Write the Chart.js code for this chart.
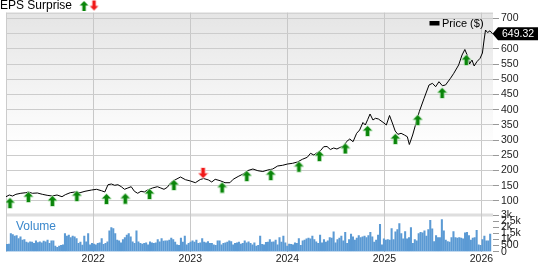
<!DOCTYPE html>
<html>
<head>
<meta charset="utf-8">
<script src="https://cdn.jsdelivr.net/npm/chart.js@4.4.1/dist/chart.umd.min.js"></script>
<style>
html,body{margin:0;padding:0;background:#fff;}
#wrap{position:relative;width:538px;height:262px;}
</style>
</head>
<body>
<div id="wrap"><canvas id="c" width="538" height="262"></canvas></div>
<script>
// ---- data ----
const yearTicks = [2022, 2023, 2024, 2025, 2026];
const priceTicks = [100,150,200,250,300,350,400,450,500,550,600,650,700];
const volumeTicks = [0,500,1000,1500,2000,2500,3000];
const volumeTickLabels = ['0','500','1k','1.5k','2k','2.5k','3k'];

const priceDates = [
 2021.101,2021.135,2021.169,2021.203,2021.254,2021.305,2021.332,2021.373,2021.424,2021.475,
 2021.525,2021.576,2021.627,2021.678,2021.712,2021.763,2021.813,2021.864,2021.915,2021.983,
 2022.034,2022.085,2022.119,2022.152,2022.187,2022.221,2022.254,2022.289,2022.322,2022.356,
 2022.391,2022.424,2022.458,2022.492,2022.526,2022.560,2022.610,2022.661,2022.696,2022.729,
 2022.763,2022.798,2022.831,2022.899,2022.950,2023.001,2023.052,2023.103,2023.137,2023.188,
 2023.221,2023.256,2023.307,2023.358,2023.408,2023.442,2023.493,2023.544,2023.595,2023.645,
 2023.696,2023.747,2023.798,2023.849,2023.900,2023.951,2024.002,2024.053,2024.104,2024.155,
 2024.205,2024.239,2024.273,2024.307,2024.341,2024.375,2024.409,2024.443,2024.477,2024.511,
 2024.541,2024.582,2024.609,2024.643,2024.677,2024.714,2024.745,2024.779,2024.803,2024.829,
 2024.852,2024.882,2024.908,2024.938,2024.986,2025.020,2025.053,2025.086,2025.111,2025.139,
 2025.172,2025.206,2025.236,2025.257,2025.291,2025.325,2025.359,2025.409,2025.460,2025.495,
 2025.528,2025.562,2025.597,2025.630,2025.681,2025.715,2025.765,2025.800,2025.829,2025.857,
 2025.877,2025.902,2025.925,2025.953,2025.986,2026.010,2026.027,2026.042,2026.063,2026.088,
 2026.114
];
const prices = [
 114.1,119.7,116.4,122.0,125.3,127.3,129.6,125.3,126.3,122.0,
 118.7,116.4,119.7,114.1,120.7,127.3,129.6,127.3,131.9,136.1,
 138.4,133.8,129.6,153.5,155.8,151.6,153.5,147.0,138.4,142.7,
 147.0,131.9,125.3,131.9,129.6,136.1,142.7,147.0,142.7,138.4,
 145.0,160.1,167.3,178.8,170.0,165.7,160.1,170.6,173.9,169.0,
 162.4,171.3,166.7,160.1,160.1,171.3,180.5,188.7,200.2,205.1,
 199.5,196.9,201.8,205.1,215.0,217.3,221.5,223.8,228.1,237.0,
 243.5,256.7,251.1,258.7,265.2,278.4,279.0,269.2,274.1,270.8,
 275.7,280.7,294.8,303.7,294.8,322.4,333.2,357.9,349.7,368.4,
 385.8,366.1,371.7,369.4,358.5,349.7,380.9,352.9,330.0,319.1,
 322.4,316.8,311.2,285.6,316.8,355.2,393.3,437.4,481.1,486.6,
 475.5,491.9,478.8,481.1,503.1,519.5,546.8,579.6,597.7,576.3,
 550.0,563.2,543.5,557.6,568.8,586.2,628.9,661.7,653.5,659.1,
 649.32
];

// weekly volume bars, first week to last week
const volumeFirstWeek = 2021.111;
const volumeLastWeek = 2026.090;
const volumes = [
 594,620,1485,1400,1270,1320,1080,1215,945,1000,780,730,810,780,675,890,755,810,730,865,
 810,945,675,890,890,460,350,460,513,567,1485,1270,1350,1160,1270,1215,1080,675,780,540,
 1270,810,1485,567,675,620,567,675,730,1080,594,675,810,1700,1970,1890,1485,945,890,730,
 1000,1160,1350,1485,1215,810,675,1700,810,675,620,675,730,567,810,730,675,730,1000,810,
 1080,865,890,890,945,1107,1000,780,567,513,1107,780,1270,567,675,780,890,780,945,675,
 730,1080,780,730,837,675,675,567,513,890,890,567,675,730,780,890,837,567,675,730,
 780,620,675,890,730,810,
 675,567,730,460,513,1270,594,567,756,780,1000,780,810,945,567,1160,780,1270,730,460,
 620,594,567,730,675,1080,513,890,945,1053,1107,1053,1270,1000,810,675,1350,730,1000,780,
 890,1160,1107,1620,730,1000,1107,1270,890,1593,675,1000,1431,1215,945,1107,1323,1160,1215,1270,
 1160,1323,1593,1215,780,945,1350,2240,567,1053,945,1000,945,1890,1000,1620,1810,2295,1485,1053,
 1647,1053,1160,1971,675,1000,890,1485,1593,1540,1700,1270,1810,2565,1863,837,1323,1160,1160,2620,
 1700,945,837,780,1160,1647,1160,1107,1160,1107,1053,1540,1593,1323,945,1107,1160,1755,567,513,
 1000,1270,890,890,1431
];

// EPS surprise markers
const epsDates = [2021.142,2021.332,2021.579,2021.831,2022.136,2022.330,2022.580,2022.831,2023.132,2023.328,
                  2023.582,2023.829,2024.119,2024.330,2024.597,2024.826,2025.113,2025.343,2025.595,2025.844];
const epsLevels = [93.4,113.1,100,116.4,106.6,107.6,123,152.6,192,144.3,
                   182.1,185.4,212.7,247.8,272.5,330,303.7,366,454.8,563.2];
const epsSurprise = ['beat','beat','beat','beat','beat','beat','beat','beat','miss','beat',
                     'beat','beat','beat','beat','beat','beat','beat','beat','beat','beat'];

// ---- build ----
const priceData = priceDates.map((d,i)=>({x:d, y:prices[i]}));
const volStep = (volumeLastWeek - volumeFirstWeek) / (volumes.length - 1);
const volumeData = volumes.map((v,i)=>({x: volumeFirstWeek + i*volStep, y: v}));
const beatData = [], missData = [];
epsDates.forEach((d,i)=>{ (epsSurprise[i]==='beat'?beatData:missData).push({x:d,y:epsLevels[i]}); });

function makeArrow(fill, halo, up){
  const c = document.createElement('canvas'); c.width = 11; c.height = 12;
  const g = c.getContext('2d');
  g.save();
  if(!up){ g.translate(0,12); g.scale(1,-1); }
  g.beginPath();
  g.moveTo(5.5,1); g.lineTo(9.8,5.6); g.lineTo(7.2,5.6); g.lineTo(7.2,11); g.lineTo(3.8,11);
  g.lineTo(3.8,5.6); g.lineTo(1.2,5.6); g.closePath();
  if(halo){ g.strokeStyle = halo; g.lineWidth = 1.6; g.lineJoin='round'; g.stroke(); }
  g.fillStyle = fill; g.fill();
  g.restore();
  return c;
}
const upArrow = makeArrow('#0a850a','rgba(190,230,190,0.9)',true);
const downArrow = makeArrow('#f01818','rgba(255,200,200,0.9)',false);
const upArrowPlain = makeArrow('#0a850a',null,true);
const downArrowPlain = makeArrow('#f01818',null,false);

const FONT = 'Arial, "Liberation Sans", Helvetica, sans-serif';

const decor = {
  id:'decor',
  beforeDraw(chart){
    const {ctx, chartArea:a} = chart;
    const ys = chart.scales.y;
    ctx.save();
    ctx.fillStyle = '#fff'; ctx.fillRect(0,0,chart.width,chart.height);
    const gr = ctx.createLinearGradient(0,a.top,0,150);
    gr.addColorStop(0,'#e5e5e5'); gr.addColorStop(1,'#ffffff');
    ctx.fillStyle = gr; ctx.fillRect(a.left, a.top, a.right-a.left, ys.bottom - a.top);
    // separator band between panels
    ctx.fillStyle = '#dedede'; ctx.fillRect(a.left, ys.bottom-1.5, a.right-a.left, 3);
    // top and left border
    ctx.fillStyle = '#cccccc'; ctx.fillRect(a.left, a.top, a.right-a.left, 1);
    ctx.fillRect(a.left, a.top, 1, a.bottom-a.top);
    ctx.restore();
  },
  afterDraw(chart){
    const {ctx, chartArea:a} = chart;
    const ys = chart.scales.y;
    ctx.save();
    // title arrows
    ctx.font = '12px ' + FONT;
    const tw = ctx.measureText('EPS Surprise').width;
    ctx.drawImage(upArrowPlain, a.left + tw + 0.5, 0);
    ctx.drawImage(downArrowPlain, a.left + tw + 10.5, -0.5);
    // legend
    ctx.fillStyle = '#000';
    ctx.fillRect(429.5, 21, 10, 4.5);
    ctx.font = '11px ' + FONT; ctx.textBaseline = 'middle'; ctx.textAlign = 'left';
    ctx.fillText(chart.data.datasets[0].label, 442, 23.5);
    // Volume label
    ctx.fillStyle = '#3b88cc'; ctx.font = '12px ' + FONT;
    ctx.fillText('Volume', a.left + 10, 227);
    // last price box
    const last = prices[prices.length-1];
    const py = ys.getPixelForValue(last);
    ctx.fillStyle = '#000';
    ctx.beginPath();
    ctx.moveTo(a.right - 0.5, py); ctx.lineTo(a.right + 5, py - 6.5); ctx.lineTo(chart.width, py - 6.5);
    ctx.lineTo(chart.width, py + 6.5); ctx.lineTo(a.right + 5, py + 6.5); ctx.closePath(); ctx.fill();
    ctx.fillStyle = '#fff'; ctx.font = '10.5px ' + FONT;
    ctx.fillText(last.toFixed(2), a.right + 9, py + 0.5);
    ctx.restore();
  }
};

new Chart(document.getElementById('c'), {
  type: 'bar',
  data: {
    datasets: [
      {type:'line', label:'Price ($)', data: priceData, yAxisID:'y', borderColor:'#000', borderWidth:1,
       pointRadius:0, tension:0, order:1},
      {type:'scatter', label:'Beat', data: beatData, yAxisID:'y', pointStyle: upArrow, pointRadius:5, order:0},
      {type:'scatter', label:'Miss', data: missData, yAxisID:'y', pointStyle: downArrow, pointRadius:5, order:0},
      {type:'bar', label:'Volume', data: volumeData, yAxisID:'yv', backgroundColor:'#5b9ad4',
       barThickness:1.4, order:2}
    ]
  },
  options: {
    responsive:false, animation:false, devicePixelRatio:1,
    layout:{padding:0},
    plugins:{
      legend:{display:false}, tooltip:{enabled:false},
      title:{display:true, text:'EPS Surprise', align:'start', color:'#000',
             font:{size:12, family:FONT, weight:'normal', lineHeight:1}, padding:{top:0,bottom:0.7}}
    },
    scales:{
      x:{type:'linear', min:2021.101, max:2026.119, offset:false,
         afterBuildTicks(s){ s.ticks = yearTicks.map(v=>({value:v})); },
         afterFit(s){ s.height = 10.3; },
         grid:{color:'#c8c8c8', drawTicks:false, lineWidth:1, offset:false},
         border:{display:false},
         ticks:{font:{size:10.5, family:FONT}, color:'#222', padding:1, maxRotation:0,
                callback:(v)=>String(v)}},
      y:{type:'linear', position:'right', stack:'v', stackWeight:202.3, min:54.0, max:718.6,
         afterBuildTicks(s){ s.ticks = priceTicks.map(v=>({value:v})); },
         afterFit(s){ s.width = 45; },
         grid:{color:'#cccccc', tickColor:'#999', tickLength:6, lineWidth:1},
         border:{display:false},
         ticks:{font:{size:10.5, family:FONT}, color:'#222', padding:2, autoSkip:false}},
      yv:{type:'linear', position:'right', stack:'v', stackWeight:36.7, min:0, max:3000,
         afterBuildTicks(s){ s.ticks = volumeTicks.map(v=>({value:v})); },
         afterFit(s){ s.width = 45; },
         grid:{drawOnChartArea:false, tickColor:'#999', tickLength:6},
         border:{display:false},
         ticks:{font:{size:10.5, family:FONT}, color:'#222', padding:2, autoSkip:false,
                callback:(v)=>volumeTickLabels[volumeTicks.indexOf(v)]}}
    }
  },
  plugins:[decor]
});
</script>
</body>
</html>
